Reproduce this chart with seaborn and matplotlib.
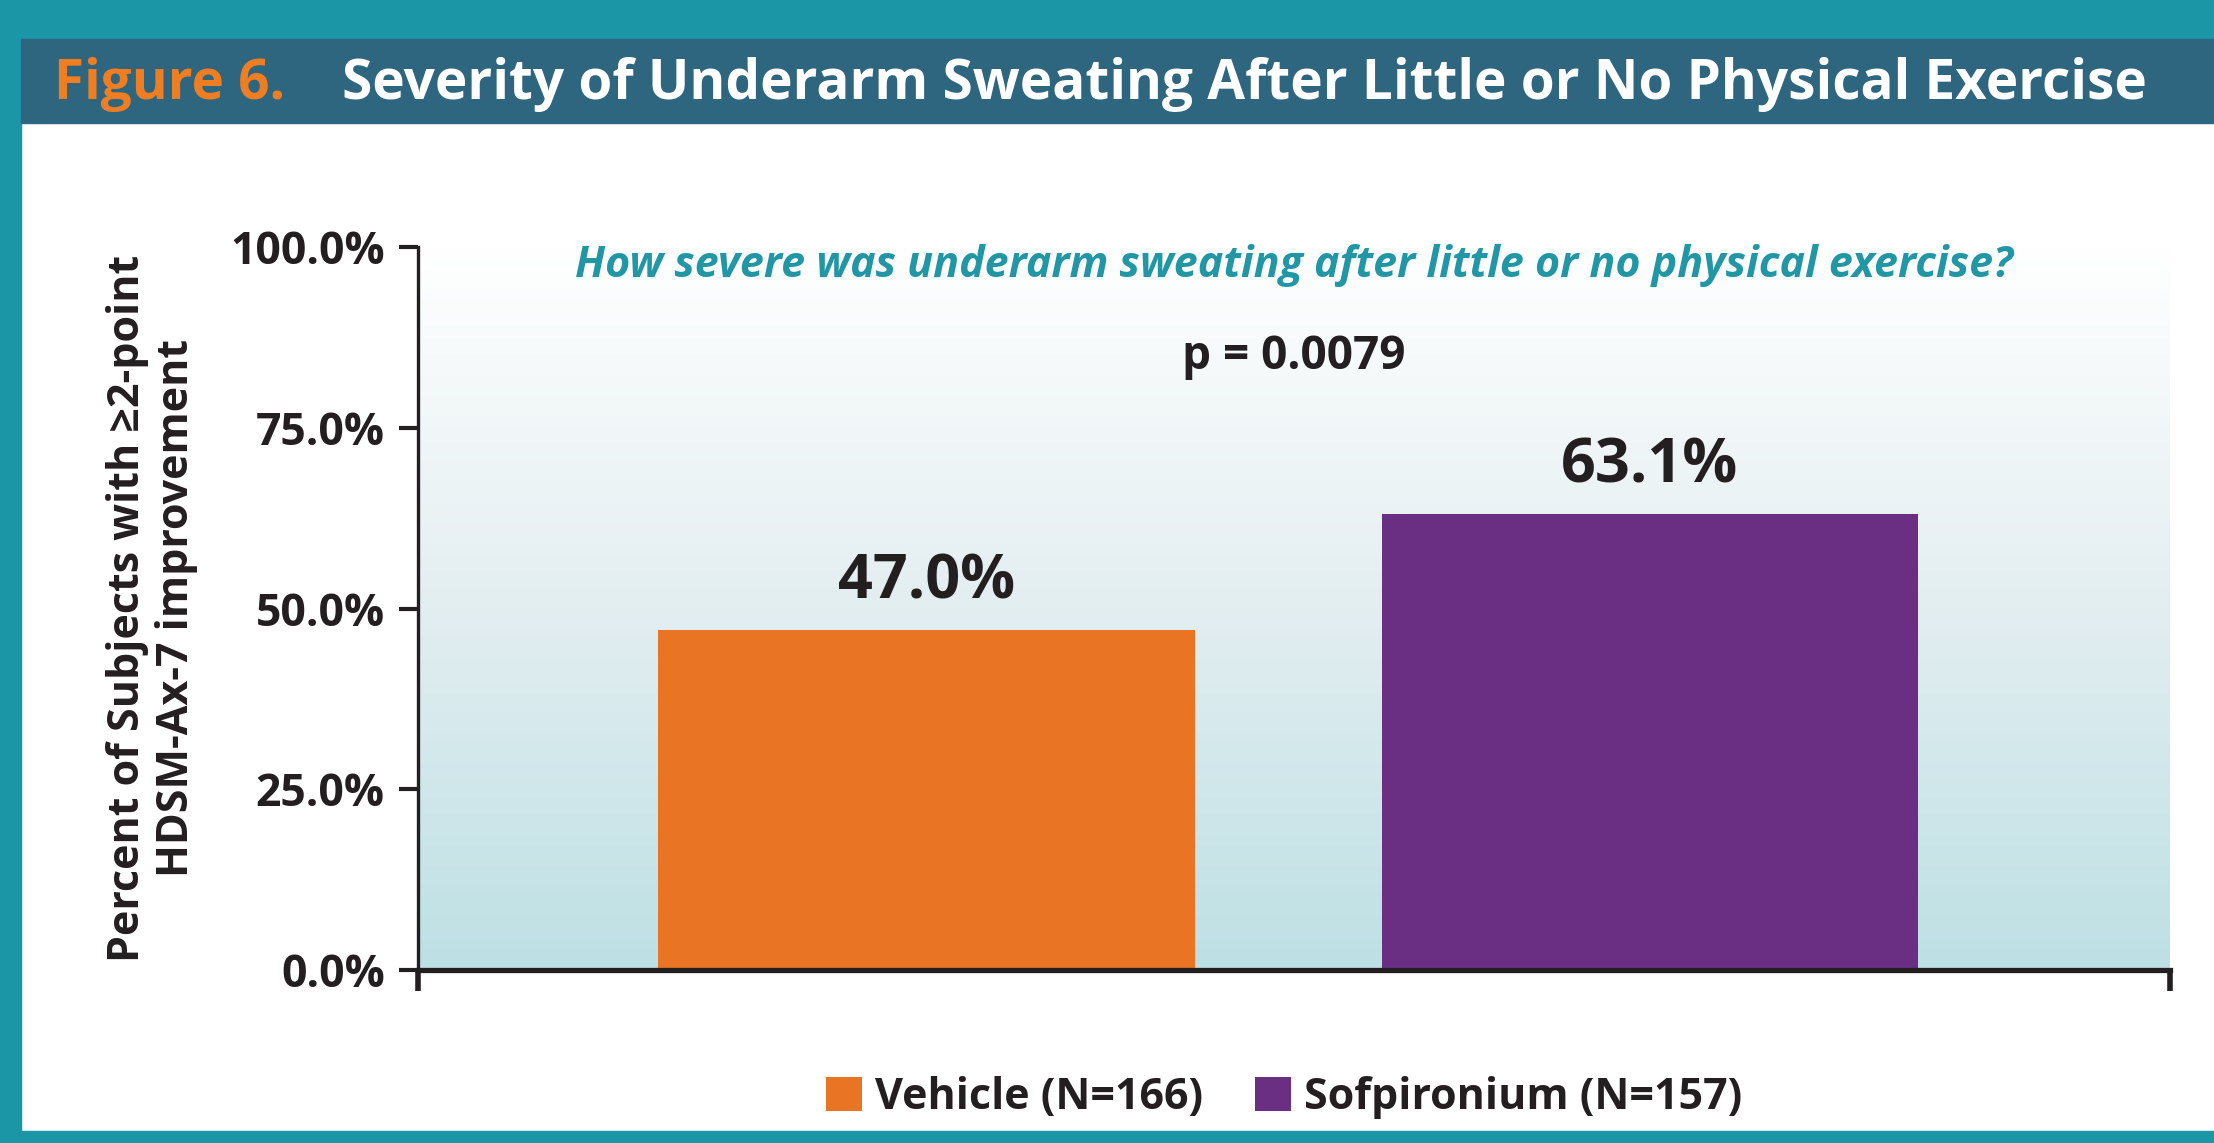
import numpy as np
import matplotlib
matplotlib.use("Agg")
import matplotlib.pyplot as plt
from matplotlib.patches import Rectangle
from matplotlib.colors import LinearSegmentedColormap
import seaborn as sns

# data
groups = ["Vehicle (N=166)", "Sofpironium (N=157)"]
values = [47.0, 63.1]
bar_colors = ["#e97424", "#6a2f82"]
y_ticks = [0, 25, 50, 75, 100]
y_ticklabels = ["0.0%", "25.0%", "50.0%", "75.0%", "100.0%"]
p_text = "p = 0.0079"
question = "How severe was underarm sweating after little or no physical exercise?"
ylabel = "Percent of Subjects with \u22652-point\nHDSM-Ax-7 improvement"

sns.set_theme(style="white")
plt.rcParams['font.family'] = ['Open Sans', 'DejaVu Sans']
plt.rcParams['font.weight'] = 'bold'

TEAL = "#1b96a6"
HEADER = "#2e6680"
DARK = "#231f20"

fig = plt.figure(figsize=(22.14, 11.43), dpi=100)
fig.patch.set_facecolor("white")

# frame and header band
fig.patches.append(Rectangle((0, 1 - 39/1143), 1, 39/1143, transform=fig.transFigure,
                             color=TEAL, zorder=0))
fig.patches.append(Rectangle((0, 0), 21/2214, 1, transform=fig.transFigure,
                             color=TEAL, zorder=0))
fig.patches.append(Rectangle((0, 0), 1, 12/1143, transform=fig.transFigure,
                             color=TEAL, zorder=0))
fig.patches.append(Rectangle((21/2214, 1 - 123/1143), 1, 84/1143, transform=fig.transFigure,
                             color=HEADER, zorder=1))
fig.text(54/2214, 0.926, "Figure 6.", color="#ef7d22", fontsize=39.5, fontweight="bold",
         va="center", ha="left")
fig.text(342/2214, 0.926, "Severity of Underarm Sweating After Little or No Physical Exercise",
         color="white", fontsize=39.5, fontweight="bold", va="center", ha="left")

ax = fig.add_axes([418/2214, 1 - 970/1143, 1752/2214, 723/1143])
xmin, xmax = -0.703, 1.719

# gradient background
grad = np.linspace(0, 1, 256).reshape(-1, 1)
cmap = LinearSegmentedColormap.from_list("bg", ["#bde0e4", "#e3eef1", "#ffffff"])
ax.imshow(grad, extent=[xmin, xmax, 0, 100], origin="lower", aspect="auto",
          cmap=cmap, zorder=0)

sns.barplot(x=groups, y=values, hue=groups, palette=bar_colors, width=0.742,
            saturation=1, linewidth=0, ax=ax, legend=True, zorder=2)

for c in ax.containers:
    ax.bar_label(c, fmt="%.1f%%", padding=12, fontsize=44, fontweight="bold", color=DARK)

ax.set_xlim(xmin, xmax)
ax.set_ylim(0, 100)
ax.set_yticks(y_ticks)
ax.set_yticklabels(y_ticklabels, fontsize=32, fontweight="bold", color=DARK)
ax.set_xticks([xmin, xmax])
ax.set_xticklabels(["", ""])
ax.tick_params(axis="y", direction="out", length=14, width=3, color=DARK, pad=10, left=True)
ax.tick_params(axis="x", direction="out", length=15, width=4, color=DARK, bottom=True)
for s in ["top", "right"]:
    ax.spines[s].set_visible(False)
ax.spines["left"].set_linewidth(2.4)
ax.spines["left"].set_color(DARK)
ax.spines["bottom"].set_linewidth(3.8)
ax.spines["bottom"].set_color(DARK)
ax.set_xlabel("")
ax.set_ylabel("")

ax.text(0.5, 0.975, question, transform=ax.transAxes, ha="center", va="center",
        fontsize=31, fontweight="bold", fontstyle="italic", color="#2197a6")
ax.text(0.5, 0.848, p_text, transform=ax.transAxes, ha="center", va="center",
        fontsize=33, fontweight="bold", color=DARK)

fig.text(152/2214, 1 - 608/1143, ylabel, rotation=90, ha="center", va="center",
         fontsize=31, fontweight="bold", color=DARK, linespacing=1.2,
         multialignment="center")

handles, labels = ax.get_legend_handles_labels()
ax.get_legend().remove()
fig.legend(handles, labels, loc="center", bbox_to_anchor=(0.58, 0.04), ncol=2,
           frameon=False, handlelength=0.85, handleheight=0.85, handletextpad=0.3,
           columnspacing=1.2, prop={"size": 31, "weight": "bold"}, labelcolor=DARK)

fig.savefig("out.png", dpi=100)
